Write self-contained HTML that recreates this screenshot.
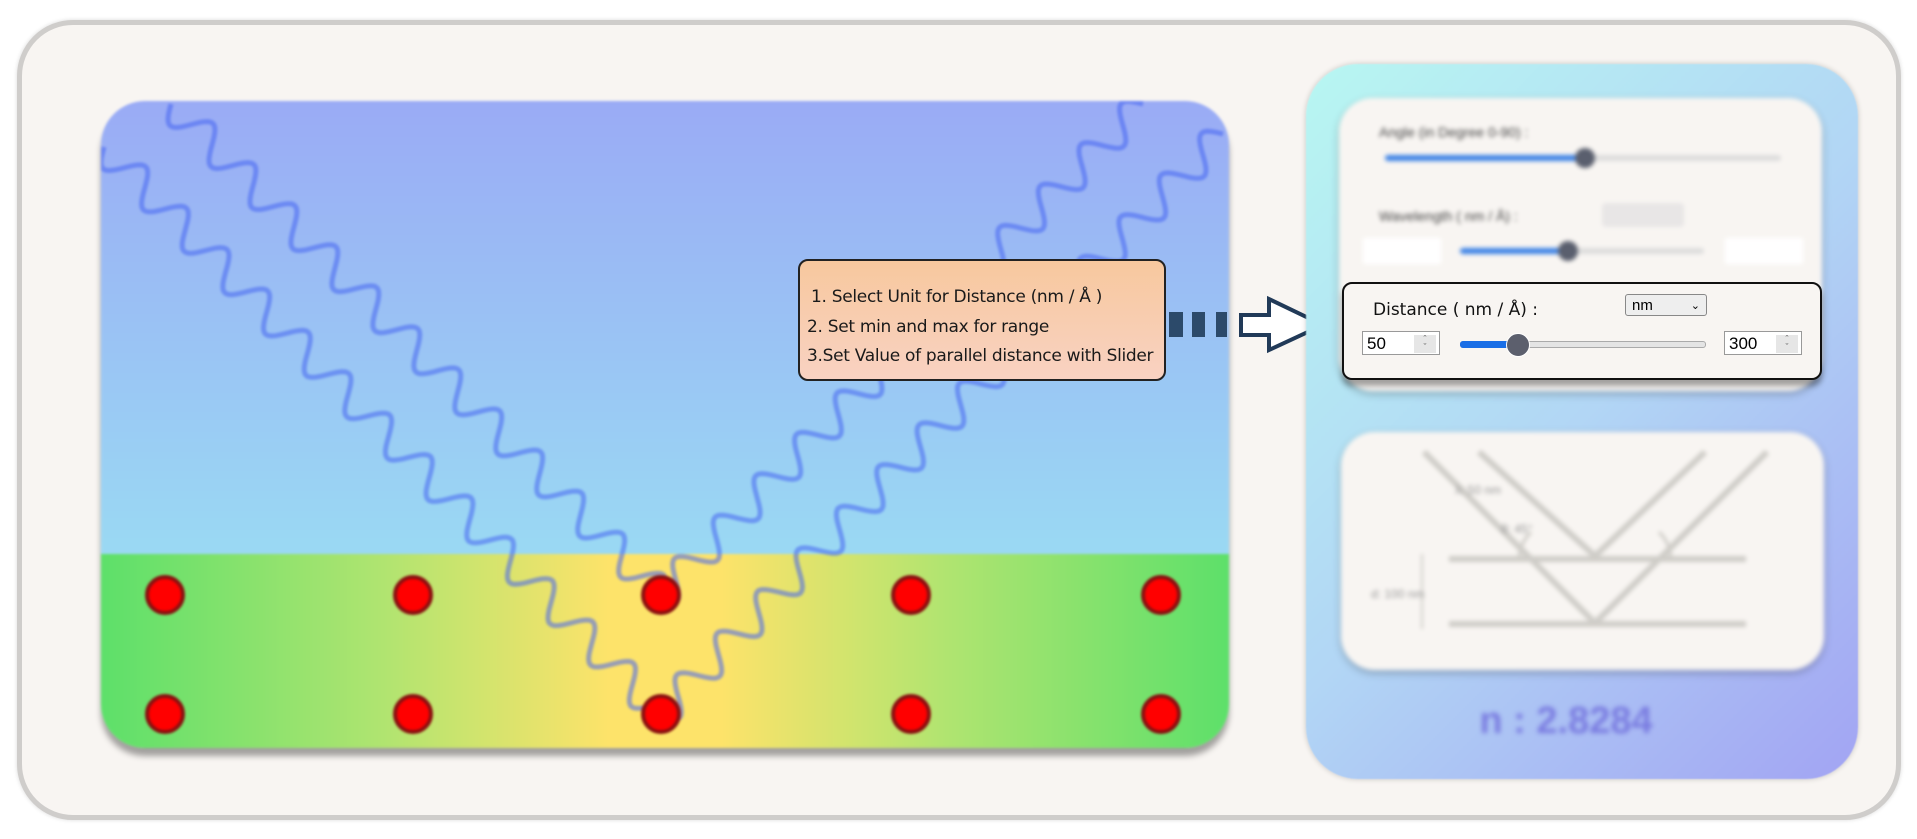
<!DOCTYPE html>
<html><head><meta charset="utf-8">
<style>
html,body{margin:0;padding:0;width:1917px;height:839px;overflow:hidden;background:#fff;font-family:"Liberation Sans",sans-serif;}
.abs{position:absolute;}
#outer{left:17px;top:20px;width:1874px;height:790px;border:5px solid #cfcdcb;border-radius:56px;background:#f8f5f2;box-shadow:0 0 4px rgba(0,0,0,.15);}
#scene{left:101px;top:101px;width:1128px;height:647px;border-radius:44px;overflow:hidden;box-shadow:0 8px 6px rgba(0,0,0,.35);filter:blur(1.2px);}
#sky{left:0;top:0;width:100%;height:453px;background:linear-gradient(#9aabf5,#9ad9f3);}
#ground{left:0;top:453px;width:100%;height:194px;background:linear-gradient(90deg,#5de06a 0%,#b0e470 25%,#fde36a 45%,#fde36a 55%,#b0e470 75%,#5de06a 100%);}
#callout{left:798px;top:259px;width:364px;height:118px;border:2px solid #222;border-radius:10px;background:linear-gradient(#f7c89e,#f9d2c2);font-family:"DejaVu Sans","Liberation Sans",sans-serif;font-size:17px;color:#1a1a1a;letter-spacing:-0.3px;}
#callout div{position:absolute;white-space:nowrap;}
#panel{left:1306px;top:64px;width:552px;height:715px;border-radius:52px;background:linear-gradient(135deg,#b8f7f2 0%,#b2d6f5 50%,#a2a4f3 100%);box-shadow:0 0 6px rgba(0,0,0,.2);filter:blur(0.6px);}
.card{background:#f8f5f2;border-radius:34px;box-shadow:0 3px 8px rgba(0,0,0,.25);}
#dist{left:1342px;top:282px;width:476px;height:94px;border:2px solid #111;border-radius:10px;background:#f8f5f2;box-shadow:0 6px 6px rgba(0,0,0,.35);}
.inp{position:absolute;height:24px;border:1px solid #999;background:#fff;font-size:17px;line-height:24px;padding-left:4px;box-sizing:border-box;}
.spin{position:absolute;right:3px;top:3px;width:22px;height:18px;background:#e6e6e6;font-size:9px;line-height:8px;text-align:center;color:#555;}
</style></head><body>
<div id="outer" class="abs"></div>

<div id="scene" class="abs">
  <div id="sky" class="abs"></div>
  <div id="ground" class="abs"></div>
  <svg class="abs" style="left:0;top:0" width="1128" height="647" id="scenesvg"></svg>
</div>

<div id="callout" class="abs">
  <div style="left:11px;top:26px">1. Select Unit for Distance (nm / Å )</div>
  <div style="left:7px;top:56px">2. Set min and max for range</div>
  <div style="left:7px;top:85px">3.Set Value of parallel distance with Slider</div>
</div>
<svg class="abs" style="left:1165px;top:290px" width="170" height="70">
  <rect x="4" y="22" width="14" height="25" fill="#2c4a6a"/>
  <rect x="27" y="22" width="13" height="25" fill="#2c4a6a"/>
  <rect x="51" y="22" width="11" height="25" fill="#2c4a6a"/>
  <path d="M76 25 H104 V9 L158 35 L104 60 V45 H76 Z" fill="#fff" stroke="#213a58" stroke-width="4" stroke-linejoin="miter"/>
</svg>

<div id="panel" class="abs">
  <div class="abs card" style="left:33px;top:34px;width:483px;height:293px;filter:blur(2px)">
    <div class="abs" style="left:40px;top:26px;font-size:14px;color:#444">Angle (in Degree 0-90) :</div>
    <div class="abs" style="left:46px;top:57px;width:396px;height:6px;background:#ddd;border-radius:3px"></div>
    <div class="abs" style="left:46px;top:57px;width:200px;height:6px;background:#3b82e6;border-radius:3px"></div>
    <div class="abs" style="left:236px;top:50px;width:20px;height:20px;background:#5a5f6e;border-radius:50%"></div>
    <div class="abs" style="left:40px;top:110px;font-size:14px;color:#444">Wavelength ( nm / Å) :</div>
    <div class="abs" style="left:263px;top:105px;width:82px;height:24px;background:#e8e6e6;border-radius:4px"></div>
    <div class="abs" style="left:24px;top:140px;width:78px;height:26px;background:#fff"></div>
    <div class="abs" style="left:121px;top:150px;width:244px;height:6px;background:#ddd;border-radius:3px"></div>
    <div class="abs" style="left:121px;top:150px;width:108px;height:6px;background:#3b82e6;border-radius:3px"></div>
    <div class="abs" style="left:219px;top:143px;width:20px;height:20px;background:#5a5f6e;border-radius:50%"></div>
    <div class="abs" style="left:386px;top:140px;width:78px;height:26px;background:#fff"></div>
  </div>
  <div class="abs card" style="left:35px;top:368px;width:483px;height:238px;filter:blur(2px)">
    <svg width="483" height="238">
      <g stroke="#cfcdc8" stroke-width="6" fill="none">
        <line x1="83" y1="20" x2="254" y2="191"/>
        <line x1="138" y1="20" x2="254" y2="124"/>
        <line x1="254" y1="124" x2="364" y2="20"/>
        <line x1="254" y1="191" x2="426" y2="20"/>
        <line x1="108" y1="127" x2="405" y2="127"/>
        <line x1="108" y1="192" x2="405" y2="192"/>
        <line x1="81" y1="122" x2="81" y2="197" stroke-width="2"/>
        <path d="M178 127 A40 40 0 0 1 190 100" stroke-width="3"/>
        <path d="M330 127 A40 40 0 0 0 318 100" stroke-width="3"/>
      </g>
      <text x="114" y="62" font-size="12" fill="#999">λ: 50 nm</text>
      <text x="160" y="101" font-size="12" fill="#999">θ: 45°</text>
      <text x="30" y="166" font-size="12" fill="#999">d: 100 nm</text>
    </svg>
  </div>
  <div class="abs" style="left:0;width:520px;top:636px;text-align:center;font-size:38px;font-weight:bold;color:#7a7ce0;filter:blur(2.5px)">n : 2.8284</div>
</div>

<div id="dist" class="abs">
  <div class="abs" style="left:29px;top:16px;font-size:17px;color:#111;font-family:'DejaVu Sans',sans-serif">Distance ( nm / Å) :</div>
  <div class="abs" style="left:281px;top:10px;width:82px;height:22px;border:1px solid #888;border-radius:3px;background:#eee;font-size:15px;line-height:22px;padding-left:6px;box-sizing:border-box">nm<span style="position:absolute;right:6px;top:0;font-size:11px">&#8964;</span></div>
  <div class="inp" style="left:18px;top:47px;width:78px">50<div class="spin">&#710;<br>&#711;</div></div>
  <div class="abs" style="left:116px;top:57px;width:244px;height:5px;background:#e4e4e4;border:1px solid #aaa;border-radius:3px"></div>
  <div class="abs" style="left:116px;top:57px;width:58px;height:7px;background:#1a6ee6;border-radius:3px"></div>
  <div class="abs" style="left:162px;top:49px;width:22px;height:22px;background:#5c5f6d;border-radius:50%;border:1px solid #fff"></div>
  <div class="inp" style="left:380px;top:47px;width:78px">300<div class="spin">&#710;<br>&#711;</div></div>
</div>

<script>
const atomX = [64, 312, 560, 810, 1060];
const atomY = [494, 613];
const rayStarts = [[3,46],[70,3],[1122,33],[1042,3]];
const rayEnds = [[560,613],[560,494],[560,613],[560,494]];
const svg = document.getElementById('scenesvg');
const NS = 'http://www.w3.org/2000/svg';
for (let i = 0; i < rayStarts.length; i++) {
  const [x0,y0] = rayStarts[i], [x1,y1] = rayEnds[i];
  const dx = x1-x0, dy = y1-y0, L = Math.hypot(dx,dy);
  const ux = dx/L, uy = dy/L, nx = -uy, ny = ux;
  let d = '';
  for (let s = 0; s <= L; s += 3) {
    const a = 16*Math.sin(s/58*2*Math.PI);
    const px = x0+ux*s+nx*a, py = y0+uy*s+ny*a;
    d += (s===0?'M':'L')+px.toFixed(1)+' '+py.toFixed(1)+' ';
  }
  const p = document.createElementNS(NS,'path');
  p.setAttribute('d', d);
  p.setAttribute('fill','none');
  p.setAttribute('stroke','rgba(70,100,240,0.55)');
  p.setAttribute('stroke-width','5');
  
  
  svg.appendChild(p);
}
for (const y of atomY) for (const x of atomX) {
  const c = document.createElementNS(NS,'circle');
  c.setAttribute('cx', x); c.setAttribute('cy', y); c.setAttribute('r', 18);
  c.setAttribute('fill','#f00'); c.setAttribute('stroke','#8a1010'); c.setAttribute('stroke-width','4');
  
  
  svg.appendChild(c);
}
</script>
</body></html>
